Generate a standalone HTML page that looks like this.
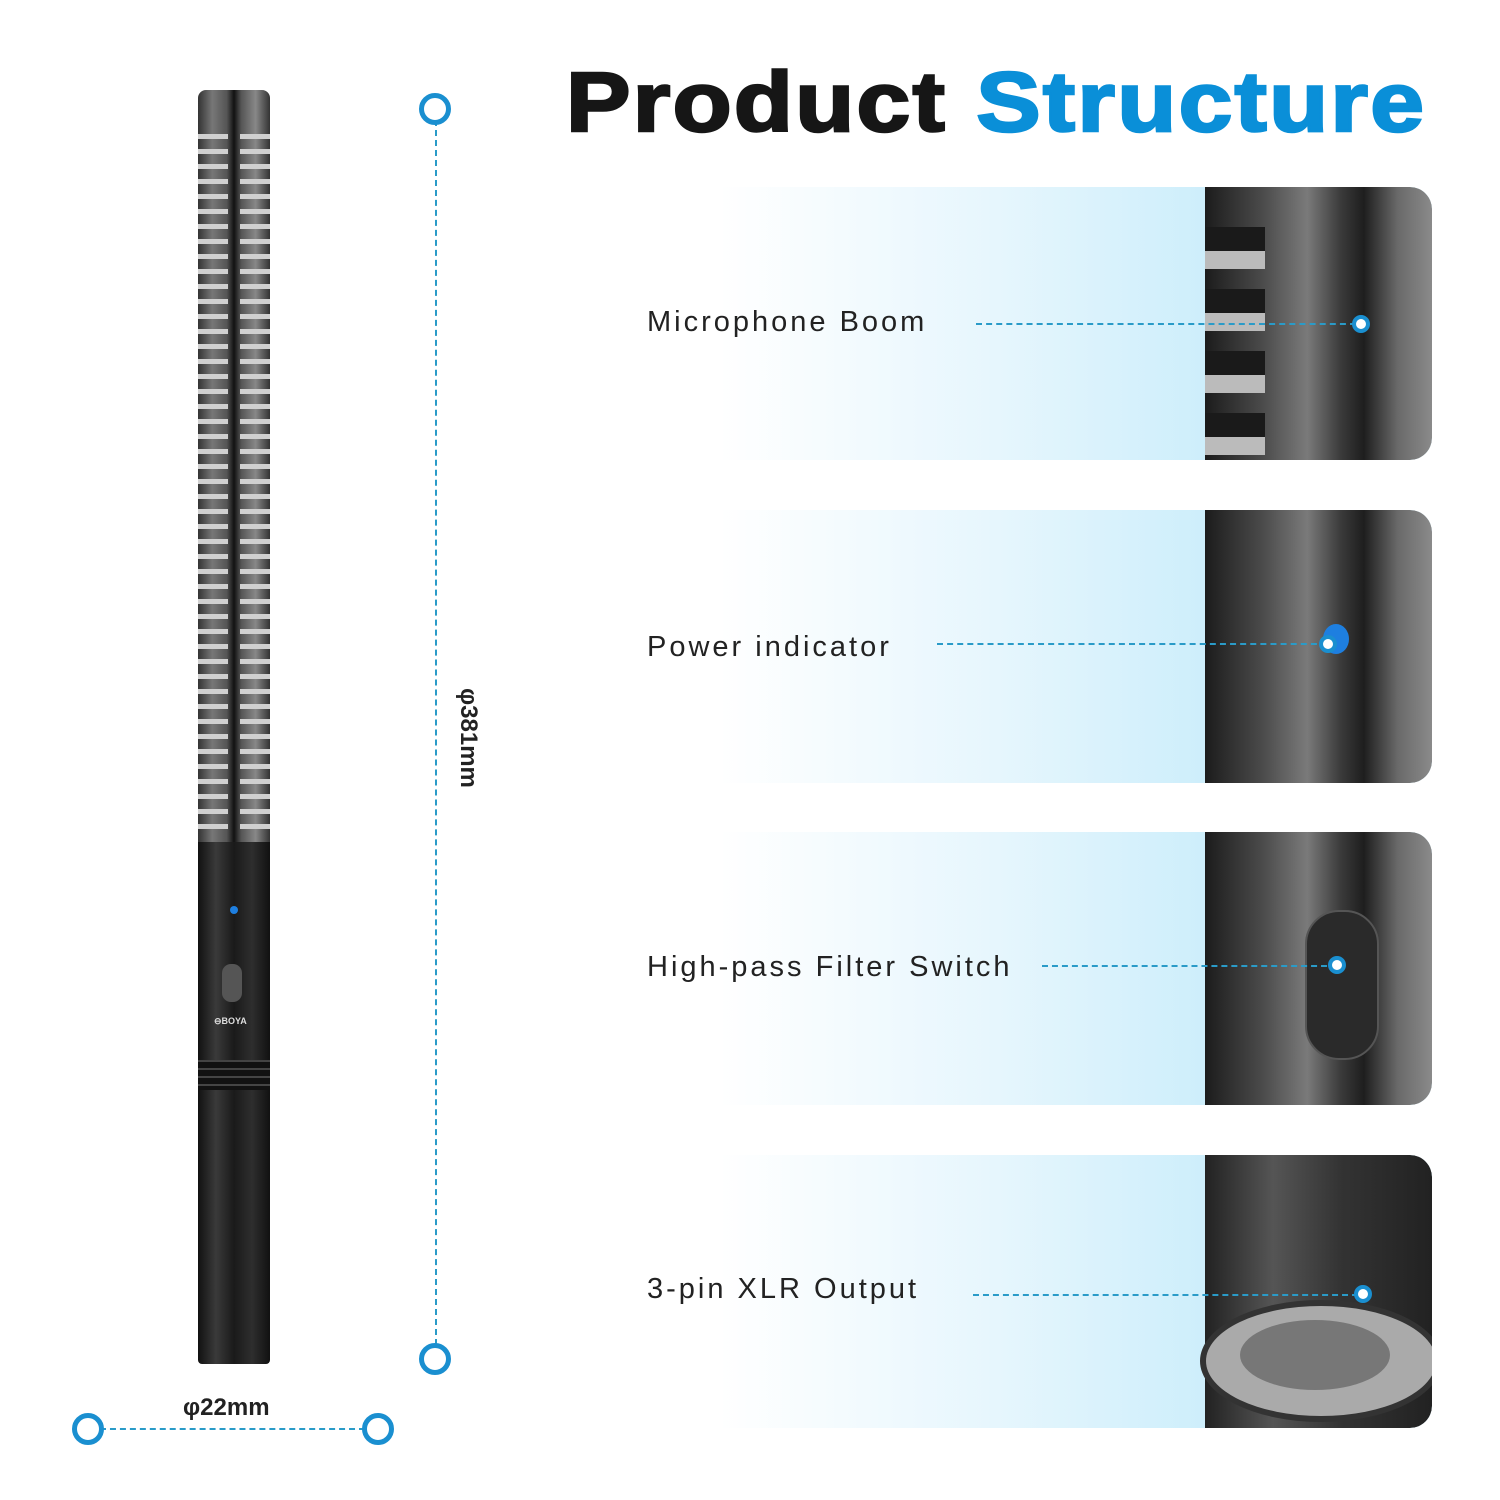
<!DOCTYPE html>
<html><head><style>
body{margin:0;width:1500px;height:1500px;background:#fff;position:relative;overflow:hidden;font-family:"Liberation Sans",sans-serif}
.abs{position:absolute}
.title{left:566px;top:54px;font-size:84px;font-weight:900;letter-spacing:2px;white-space:nowrap;-webkit-text-stroke:2.5px currentColor;color:#161616;transform:scaleX(1.15);transform-origin:left top}
.panel{position:absolute;left:640px;width:792px;height:273px;border-radius:0 22px 22px 0;overflow:hidden;background:linear-gradient(90deg,#fff 10%,#e6f6fd 45%,#cdeefb 72%)}
.photo{position:absolute;left:565px;top:0;width:227px;height:100%;border-radius:0 22px 22px 0;background:linear-gradient(90deg,#1c1c1c 0%,#4a4a4a 25%,#7a7a7a 45%,#3a3a3a 60%,#1e1e1e 70%,#6a6a6a 85%,#8a8a8a 100%)}
.lbl{position:absolute;left:7px;font-size:29px;color:#222;letter-spacing:3px;white-space:nowrap}
.dash{position:absolute;height:0;border-top:2px dashed #2a9bc8}
.dot{position:absolute;width:10px;height:10px;border-radius:50%;background:#fff;border:4px solid #1a8fd0}
.ring{position:absolute;width:22px;height:22px;border-radius:50%;border:5px solid #1a8fd0;background:#fff}
</style></head><body>
<div class="abs title">Product <span style="color:#0a8fd8">Structure</span></div>

<!-- mic -->
<div class="abs" style="left:198px;top:90px;width:72px;height:752px;border-radius:8px 8px 0 0;background:linear-gradient(90deg,#333,#777 20%,#555 40%,#111 50%,#555 60%,#888 80%,#333)"></div>
<div class="abs" style="left:198px;top:128px;width:30px;height:710px;background:repeating-linear-gradient(180deg,transparent 0 6px,#d0d0d0 6px 11px,transparent 11px 15px)"></div>
<div class="abs" style="left:240px;top:128px;width:30px;height:710px;background:repeating-linear-gradient(180deg,transparent 0 6px,#d0d0d0 6px 11px,transparent 11px 15px)"></div>
<div class="abs" style="left:198px;top:842px;width:72px;height:522px;border-radius:0 0 4px 4px;background:linear-gradient(90deg,#111,#3a3a3a 25%,#1a1a1a 50%,#2e2e2e 75%,#111)"></div>
<div class="abs" style="left:198px;top:1060px;width:72px;height:30px;background:repeating-linear-gradient(180deg,#444 0 2px,#111 2px 8px)"></div>
<div class="abs" style="left:230px;top:906px;width:8px;height:8px;border-radius:50%;background:#1e7fe0"></div>
<div class="abs" style="left:222px;top:964px;width:20px;height:38px;border-radius:9px;background:#555"></div>
<div class="abs" style="left:214px;top:1016px;font-size:9px;color:#ddd;font-weight:bold">⊖BOYA</div>

<!-- dimension lines -->
<div class="abs" style="left:435px;top:120px;height:1225px;border-left:2px dashed #2a9bc8"></div>
<div class="ring" style="left:419px;top:93px"></div>
<div class="ring" style="left:419px;top:1343px"></div>
<div class="abs" style="left:420px;top:722px;width:96px;transform:rotate(90deg);font-size:24px;font-weight:bold;color:#222;white-space:nowrap">φ381mm</div>
<div class="abs" style="left:100px;top:1428px;width:265px;border-top:2px dashed #2a9bc8"></div>
<div class="ring" style="left:72px;top:1413px"></div>
<div class="ring" style="left:362px;top:1413px"></div>
<div class="abs" style="left:183px;top:1394px;font-size:24px;font-weight:bold;color:#222">φ22mm</div>

<!-- panels -->
<div class="panel" style="top:187px"><div class="photo"></div>
<div class="abs" style="left:565px;top:20px;width:60px;height:260px;background:repeating-linear-gradient(180deg,transparent 0 20px,#1a1a1a 20px 44px,#bbb 44px 62px)"></div>
<div class="lbl" style="top:119px">Microphone Boom</div><div class="dash" style="left:336px;top:136px;width:380px"></div><div class="dot" style="left:712px;top:128px"></div></div>

<div class="panel" style="top:510px"><div class="photo"></div>
<div class="lbl" style="top:121px">Power indicator</div><div class="dash" style="left:297px;top:133px;width:390px"></div><div class="abs" style="left:683px;top:114px;width:26px;height:30px;border-radius:50%;background:#1e7fe0"></div><div class="dot" style="left:679px;top:125px"></div></div>

<div class="panel" style="top:832px"><div class="photo"></div>
<div class="abs" style="left:665px;top:78px;width:70px;height:146px;border-radius:34px;background:#2a2a2a;border:2px solid #555"></div>
<div class="lbl" style="top:119px">High-pass Filter Switch</div><div class="dash" style="left:402px;top:133px;width:295px"></div><div class="dot" style="left:688px;top:124px"></div></div>

<div class="panel" style="top:1155px"><div class="photo" style="background:linear-gradient(90deg,#222,#555 30%,#333 60%,#222)"></div>
<div class="abs" style="left:560px;top:145px;width:230px;height:110px;border-radius:50%;background:#aaa;border:6px solid #333"></div>
<div class="abs" style="left:600px;top:165px;width:150px;height:70px;border-radius:50%;background:#777"></div>
<div class="lbl" style="top:118px">3-pin XLR Output</div><div class="dash" style="left:333px;top:139px;width:385px"></div><div class="dot" style="left:714px;top:130px"></div></div>
</body></html>
